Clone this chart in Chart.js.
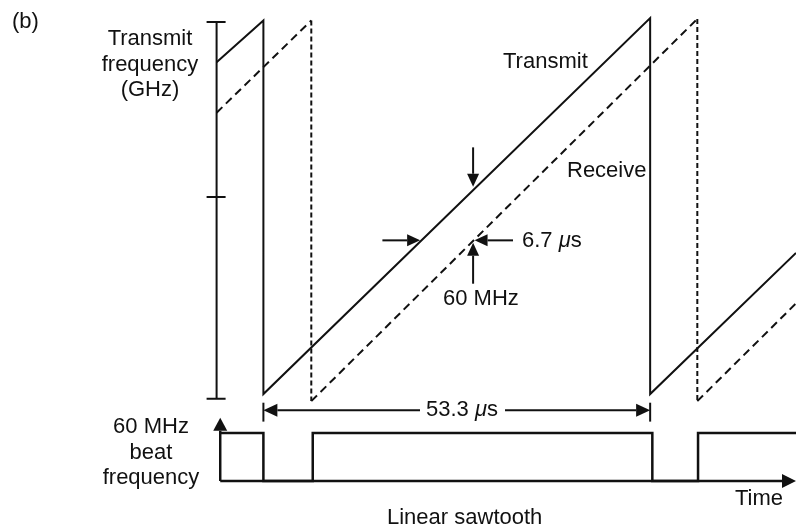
<!DOCTYPE html>
<html>
<head>
<meta charset="utf-8">
<script src="https://cdn.jsdelivr.net/npm/chart.js@4.4.1/dist/chart.umd.min.js"></script>
<style>
  html, body { margin: 0; padding: 0; background: #fff; }
  canvas { display: block; }
</style>
</head>
<body>
<canvas id="chart" width="796" height="528"></canvas>
<script>
// time in microseconds, frequencies as MHz offsets above the bottom of the sweep
const txTime = [-6.45, 0, 0, 53.3, 53.3, 73.4];
const txFreq = [421, 474, 0, 477, 0, 179];
const rxTime = [-6.45, 6.6, 6.6, 59.8, 59.8, 73.4];
const rxFreq = [357, 474, -9, 476, -9, 115];
const beatTime = [-5.95, 0, 6.8, 53.6, 59.9, 73.4];
const beatMHz = [60, 0, 60, 0, 60, 60];
const freqTicks = [-6, 250, 472];

const axisTime = -6.45;
const beatAxisTime = -5.95;

const FONT = '22px "Liberation Sans", Arial, sans-serif';
const INK = "#111";

const toPoints = (xs, ys) => xs.map((x, i) => ({ x: x, y: ys[i] }));

function arrow(ctx, x1, y1, x2, y2, len, half) {
  const a = Math.atan2(y2 - y1, x2 - x1);
  const bx = x2 - Math.cos(a) * len;
  const by = y2 - Math.sin(a) * len;
  ctx.beginPath();
  ctx.moveTo(x1, y1);
  ctx.lineTo(bx, by);
  ctx.stroke();
  ctx.beginPath();
  ctx.moveTo(x2, y2);
  ctx.lineTo(bx - Math.sin(a) * half, by + Math.cos(a) * half);
  ctx.lineTo(bx + Math.sin(a) * half, by - Math.cos(a) * half);
  ctx.closePath();
  ctx.fill();
}

// text with an italic mu in the middle: parts = [[str, italic], ...]
function richText(ctx, parts, x, y) {
  let cx = x;
  parts.forEach(([s, it]) => {
    ctx.font = (it ? "italic " : "") + FONT;
    ctx.fillText(s, cx, y);
    cx += ctx.measureText(s).width;
  });
  ctx.font = FONT;
  return cx;
}

const sketch = {
  id: "sketch",
  afterDatasetsDraw(chart) {
    const ctx = chart.ctx;
    const sx = chart.scales.x, sy = chart.scales.y, sb = chart.scales.y2;
    const px = (t) => sx.getPixelForValue(t);
    const py = (f) => sy.getPixelForValue(f);
    const pb = (b) => sb.getPixelForValue(b);

    ctx.save();
    ctx.strokeStyle = INK;
    ctx.fillStyle = INK;
    ctx.lineWidth = 2;
    ctx.lineCap = "butt";

    // frequency axis with crossing ticks
    const ax = px(axisTime);
    ctx.beginPath();
    ctx.moveTo(ax, py(freqTicks[0]));
    ctx.lineTo(ax, py(freqTicks[freqTicks.length - 1]));
    freqTicks.forEach((f) => {
      ctx.moveTo(ax - 10, py(f));
      ctx.lineTo(ax + 9, py(f));
    });
    ctx.stroke();

    // beat panel axes
    ctx.lineWidth = 2.5;
    arrow(ctx, px(beatAxisTime), pb(0), px(beatAxisTime), pb(79), 13, 7);
    arrow(ctx, px(beatAxisTime), pb(0), px(73.4), pb(0), 14, 7);

    // 53.3 us dimension
    ctx.lineWidth = 2;
    const dimY = py(-20.5);
    [0, 53.3].forEach((t) => {
      ctx.beginPath();
      ctx.moveTo(px(t), py(-11));
      ctx.lineTo(px(t), py(-35));
      ctx.stroke();
    });
    arrow(ctx, 420, dimY, px(0), dimY, 14, 6.5);
    arrow(ctx, 505, dimY, px(53.3), dimY, 14, 6.5);

    // markers on the ramps
    arrow(ctx, px(28.9), py(313), px(28.9), py(263), 13, 6);
    arrow(ctx, px(16.4), py(195), px(21.6), py(195), 13, 6);
    arrow(ctx, px(34.4), py(195), px(29.1), py(195), 13, 6);
    arrow(ctx, px(28.9), py(140), px(28.9), py(192), 13, 6);

    // labels
    ctx.font = FONT;
    ctx.textBaseline = "alphabetic";
    ctx.textAlign = "left";
    ctx.fillText("(b)", 12, 28);
    ctx.fillText("Transmit", 503, 68);
    ctx.fillText("Receive", 567, 177);
    ctx.fillText("60 MHz", 443, 305);
    ctx.fillText("Time", 735, 505);
    ctx.fillText("Linear sawtooth", 387, 524);
    richText(ctx, [["6.7 ", false], ["\u03bc", true], ["s", false]], 522, 247);
    richText(ctx, [["53.3 ", false], ["\u03bc", true], ["s", false]], 426, 416);

    ctx.textAlign = "center";
    ["Transmit", "frequency", "(GHz)"].forEach((s, i) => ctx.fillText(s, 150, 45 + i * 25.5));
    ["60 MHz", "beat", "frequency"].forEach((s, i) => ctx.fillText(s, 151, 433 + i * 25.5));
    ctx.restore();
  }
};

new Chart(document.getElementById("chart"), {
  type: "scatter",
  data: {
    datasets: [
      {
        label: "Transmit",
        data: toPoints(txTime, txFreq),
        yAxisID: "y",
        showLine: true,
        borderColor: INK,
        borderWidth: 2,
        pointRadius: 0
      },
      {
        label: "Receive",
        data: toPoints(rxTime, rxFreq),
        yAxisID: "y",
        showLine: true,
        borderColor: INK,
        borderWidth: 2,
        pointRadius: 0,
        borderDash: [8, 5],
        segment: {
          borderDash: (c) => (c.p0.parsed.x === c.p1.parsed.x ? [5, 3] : [8, 5])
        }
      },
      {
        label: "Beat",
        data: toPoints(beatTime, beatMHz),
        yAxisID: "y2",
        showLine: true,
        stepped: "before",
        borderColor: INK,
        borderWidth: 2.5,
        pointRadius: 0
      }
    ]
  },
  options: {
    responsive: false,
    animation: false,
    devicePixelRatio: 1,
    layout: { padding: 0 },
    plugins: {
      legend: { display: false },
      tooltip: { enabled: false }
    },
    scales: {
      x: { type: "linear", min: -36.3, max: 73.4, display: false },
      y: { min: -170, max: 500, display: false },
      y2: { min: -58.75, max: 601.25, display: false }
    }
  },
  plugins: [sketch]
});
</script>
</body>
</html>
